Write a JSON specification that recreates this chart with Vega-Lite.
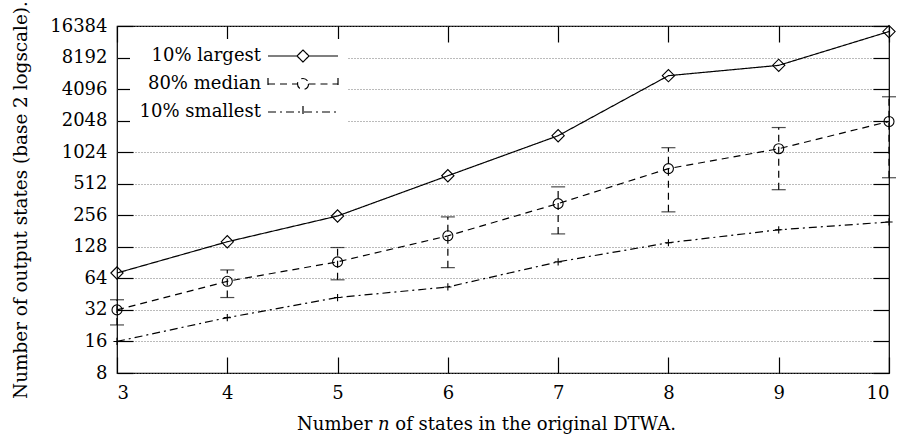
{
  "$schema": "https://vega.github.io/schema/vega-lite/v6.json",
  "width": 772,
  "height": 347,
  "autosize": {"type": "none"},
  "padding": {"left": 117, "top": 26, "right": 15, "bottom": 63},
  "background": "white",
  "config": {
    "font": "DejaVu Serif",
    "view": {"stroke": "black", "strokeWidth": 1.2},
    "axis": {
      "domain": false,
      "labelFont": "DejaVu Serif",
      "titleFont": "DejaVu Serif",
      "labelFontSize": 18,
      "titleFontSize": 18,
      "labelColor": "black",
      "titleColor": "black",
      "titleFontWeight": "normal",
      "tickColor": "black",
      "tickWidth": 1.2
    },
    "legend": {"labelFont": "DejaVu Serif", "labelFontSize": 18, "labelColor": "black"}
  },
  "data": {
    "values": [
      {"n": 3, "series": "10% largest", "value": 72},
      {"n": 4, "series": "10% largest", "value": 143},
      {"n": 5, "series": "10% largest", "value": 252},
      {"n": 6, "series": "10% largest", "value": 610},
      {"n": 7, "series": "10% largest", "value": 1470},
      {"n": 8, "series": "10% largest", "value": 5500},
      {"n": 9, "series": "10% largest", "value": 6900},
      {"n": 10, "series": "10% largest", "value": 14500},
      {"n": 3, "series": "80% median", "value": 32, "lo": 23, "hi": 40},
      {"n": 4, "series": "80% median", "value": 60, "lo": 42, "hi": 77},
      {"n": 5, "series": "80% median", "value": 92, "lo": 62, "hi": 126},
      {"n": 6, "series": "80% median", "value": 163, "lo": 81, "hi": 247},
      {"n": 7, "series": "80% median", "value": 331, "lo": 170, "hi": 478},
      {"n": 8, "series": "80% median", "value": 714, "lo": 276, "hi": 1130},
      {"n": 9, "series": "80% median", "value": 1105, "lo": 449, "hi": 1760},
      {"n": 10, "series": "80% median", "value": 2010, "lo": 584, "hi": 3460},
      {"n": 3, "series": "10% smallest", "value": 16},
      {"n": 4, "series": "10% smallest", "value": 27},
      {"n": 5, "series": "10% smallest", "value": 42},
      {"n": 6, "series": "10% smallest", "value": 53},
      {"n": 7, "series": "10% smallest", "value": 92},
      {"n": 8, "series": "10% smallest", "value": 140},
      {"n": 9, "series": "10% smallest", "value": 186},
      {"n": 10, "series": "10% smallest", "value": 221}
    ]
  },
  "resolve": {"axis": {"x": "independent", "y": "independent"}},
  "layer": [
    {
      "mark": {"type": "line", "stroke": "black", "strokeWidth": 1.2},
      "encoding": {
        "x": {
          "field": "n", "type": "quantitative",
          "scale": {"domain": [3, 10], "nice": false, "zero": false},
          "axis": {
            "orient": "bottom", "values": [3, 4, 5, 6, 7, 8, 9, 10], "format": "d",
            "tickSize": -16, "labelPadding": 27, "grid": false,
            "title": "Number 𝑛 of states in the original DTWA.", "titlePadding": 13, "titleX": 369
          }
        },
        "y": {
          "field": "value", "type": "quantitative",
          "scale": {"type": "log", "base": 2, "domain": [8, 16384], "nice": false},
          "axis": {
            "orient": "left",
            "values": [8, 16, 32, 64, 128, 256, 512, 1024, 2048, 4096, 8192, 16384],
            "format": "d", "tickSize": -16, "labelPadding": 26,
            "grid": true, "gridDash": [1, 2], "gridColor": "#777", "gridWidth": 1,
            "title": "Number of output states (base 2 logscale).", "titleFontSize": 18.4, "titlePadding": 19
          }
        },
        "strokeDash": {
          "field": "series", "type": "nominal",
          "scale": {
            "domain": ["10% largest", "80% median", "10% smallest"],
            "range": [[1, 0], [7, 5], [8, 4, 2, 4]]
          },
          "legend": {
            "title": null,
            "orient": "top-left",
            "offset": 13,
            "fillColor": "white",
            "padding": 6,
            "symbolSize": 400,
            "symbolStrokeColor": "black",
            "symbolStrokeWidth": 1.2,
            "symbolOffset": 156,
            "labelAlign": "right",
            "labelOffset": -53,
            "rowPadding": 8,
            "encode": {
              "symbols": {
                "update": {
                  "shape": {"signal": "datum.value === '10% largest' ? 'M-3.5,0H-0.6M0.6,0H3.5M0,-0.6L0.6,0L0,0.6L-0.6,0Z' : datum.value === '80% median' ? 'M-3.5,-0.6V0.6M-3.5,0H-0.55M0.55,0H3.5M3.5,-0.6V0.6M0.55,0A0.55,0.55 0 1,1 -0.55,0A0.55,0.55 0 1,1 0.55,0' : 'M-3.5,0H3.5M0,-0.6V0.6'"},
                  "fill": {"value": "transparent"},
                  "stroke": {"value": "black"}
                }
              }
            }
          }
        },
        "detail": {"field": "series"}
      }
    },
    {
      "transform": [{"filter": "datum.series === '80% median'"}],
      "mark": {"type": "rule", "stroke": "black", "strokeWidth": 1.2, "strokeDash": [7, 5]},
      "encoding": {
        "x": {"field": "n", "type": "quantitative", "axis": null},
        "y": {"field": "lo", "type": "quantitative", "axis": null},
        "y2": {"field": "hi"}
      }
    },
    {
      "transform": [{"filter": "datum.series === '80% median'"}],
      "mark": {"type": "tick", "orient": "horizontal", "color": "black", "size": 14, "thickness": 1.2},
      "encoding": {
        "x": {"field": "n", "type": "quantitative", "axis": null},
        "y": {"field": "lo", "type": "quantitative", "axis": null}
      }
    },
    {
      "transform": [{"filter": "datum.series === '80% median'"}],
      "mark": {"type": "tick", "orient": "horizontal", "color": "black", "size": 14, "thickness": 1.2},
      "encoding": {
        "x": {"field": "n", "type": "quantitative", "axis": null},
        "y": {"field": "hi", "type": "quantitative", "axis": null}
      }
    },
    {
      "transform": [{"filter": "datum.series === '10% largest'"}],
      "mark": {"type": "point", "shape": "diamond", "filled": false, "stroke": "black", "strokeWidth": 1.1, "size": 150, "opacity": 1},
      "encoding": {
        "x": {
          "field": "n", "type": "quantitative",
          "axis": {"orient": "top", "values": [3, 4, 5, 6, 7, 8, 9, 10], "tickSize": -16, "labels": false, "title": null, "grid": false}
        },
        "y": {
          "field": "value", "type": "quantitative",
          "axis": {"orient": "right", "values": [8, 16, 32, 64, 128, 256, 512, 1024, 2048, 4096, 8192, 16384], "tickSize": -16, "labels": false, "title": null, "grid": false}
        }
      }
    },
    {
      "transform": [{"filter": "datum.series === '80% median'"}],
      "mark": {"type": "point", "shape": "circle", "filled": false, "stroke": "black", "strokeWidth": 1.1, "size": 100, "opacity": 1},
      "encoding": {
        "x": {"field": "n", "type": "quantitative", "axis": null},
        "y": {"field": "value", "type": "quantitative", "axis": null}
      }
    },
    {
      "transform": [{"filter": "datum.series === '10% smallest'"}],
      "mark": {"type": "point", "shape": "M-0.6,0H0.6M0,-0.6V0.6", "filled": false, "stroke": "black", "strokeWidth": 1.1, "size": 144, "opacity": 1},
      "encoding": {
        "x": {"field": "n", "type": "quantitative", "axis": null},
        "y": {"field": "value", "type": "quantitative", "axis": null}
      }
    }
  ]
}
